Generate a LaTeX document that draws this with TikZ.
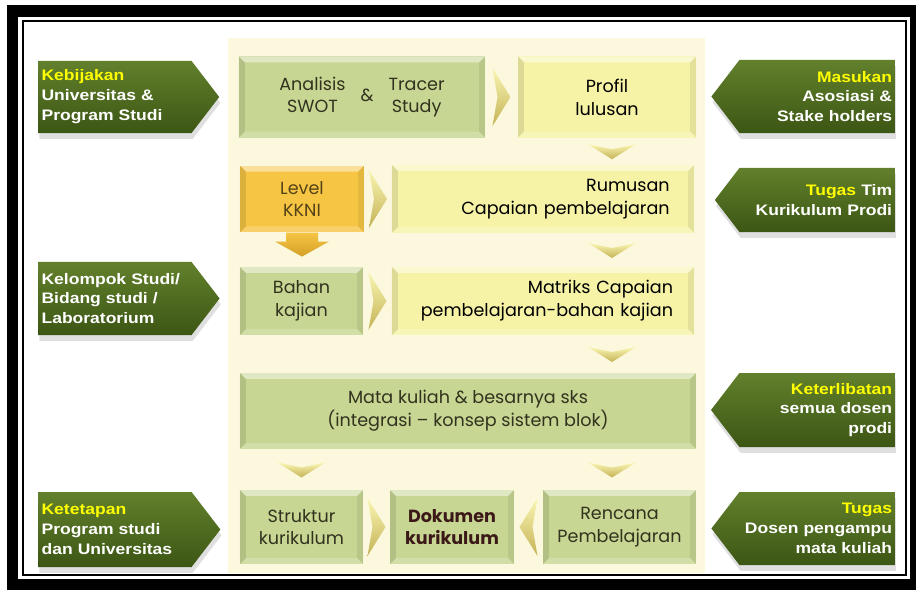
\documentclass[tikz,border=0pt]{standalone}
\usepackage{fontspec}
\usetikzlibrary{shapes.symbols,shadows,calc}
\setmainfont{Poppins}
\newfontfamily\tagfont{Liberation Sans}[FakeStretch=1.15]
\definecolor{panel}{RGB}{251,248,221}
\definecolor{gboxc}{RGB}{199,214,147}
\definecolor{yboxc}{RGB}{246,243,166}
\definecolor{kkc}{RGB}{246,197,68}
\definecolor{kkdark}{RGB}{212,160,40}
\definecolor{kktext}{RGB}{84,66,24}
\definecolor{dokc}{RGB}{60,25,25}
\definecolor{tagtop}{RGB}{98,128,44}
\definecolor{tagbot}{RGB}{60,86,20}
\definecolor{tagyel}{RGB}{255,255,0}
\definecolor{olivetext}{RGB}{50,50,30}
\definecolor{chevtop}{RGB}{250,246,178}
\definecolor{chevbot}{RGB}{196,178,86}
\newcommand{\hl}[1]{\textcolor{tagyel}{#1}}
\begin{document}
\begin{tikzpicture}[x=0.03cm,y=-0.03cm,
  bevel/.style={path picture={
    \fill[white,opacity=.45] (path picture bounding box.north west) -- (path picture bounding box.north east)
      -- ([shift={(-5pt,-5pt)}]path picture bounding box.north east) -- ([shift={(5pt,-5pt)}]path picture bounding box.north west) -- cycle;
    \fill[black,opacity=.1] (path picture bounding box.north west) -- ([shift={(5pt,-5pt)}]path picture bounding box.north west)
      -- ([shift={(5pt,5pt)}]path picture bounding box.south west) -- (path picture bounding box.south west) -- cycle;
    \fill[black,opacity=.07] (path picture bounding box.north east) -- ([shift={(-5pt,-5pt)}]path picture bounding box.north east)
      -- ([shift={(-5pt,5pt)}]path picture bounding box.south east) -- (path picture bounding box.south east) -- cycle;
    \fill[white,opacity=.2] (path picture bounding box.south west) -- ([shift={(5pt,5pt)}]path picture bounding box.south west)
      -- ([shift={(-5pt,5pt)}]path picture bounding box.south east) -- (path picture bounding box.south east) -- cycle;
  }},
  cbox/.style={bevel,inner sep=2pt,align=center,font=\fontsize{15}{19.5}\selectfont},
  gbox/.style={cbox,fill=gboxc,text=olivetext},
  ybox/.style={cbox,fill=yboxc,text=black},
  tagshape/.style={shape=signal,signal pointer angle=105,top color=tagtop,bottom color=tagbot,text=white,
    font=\tagfont\bfseries\fontsize{13}{17}\selectfont,
    drop shadow={shadow xshift=1pt,shadow yshift=-5pt,opacity=.25}},
  ltag/.style={tagshape,signal to=east,anchor=west,text width=4.4cm,align=left,inner xsep=.1cm},
  rtag/.style={tagshape,signal to=west,anchor=east,text width=4.5cm,align=right,inner xsep=.08cm},
  rchev/.pic={\shade[top color=chevtop,bottom color=chevbot] (-9,-29) -- (9,0) -- (-9,29) -- (-4,0) -- cycle;},
  lchev/.pic={\shade[top color=chevtop,bottom color=chevbot] (9,-29) -- (-9,0) -- (9,29) -- (4,0) -- cycle;},
  dchev/.pic={\shade[top color=chevtop,bottom color=chevbot] (-24,-7) -- (0,-2) -- (24,-7) -- (0,8) -- cycle;},
  kkarrow/.pic={\shade[top color=kkc,bottom color=kkdark] (-16,0) -- (16,0) -- (16,9) -- (27,9) -- (0,24) -- (-27,9) -- (-16,9) -- cycle;}
]
\useasboundingbox (0,0) rectangle (916,590);
\fill[black] (7,5) rectangle (916,590);
\fill[white] (18,17) rectangle (910,579);
\draw[line width=1.5pt] (23,21) rectangle (906,575);
\fill[panel] (228,38) rectangle (705,573);

\node (ana) at (362,97) [gbox,minimum width=7.38cm,minimum height=2.43cm] {\begin{tabular}{@{}c@{}}Analisis\\SWOT\end{tabular}\hspace{.45cm}\&\hspace{.45cm}\begin{tabular}{@{}c@{}}Tracer\\Study\end{tabular}};
\node (prof) at (607,97) [ybox,minimum width=5.34cm,minimum height=2.43cm] {Profil\\lulusan};
\node (kkni) at (302,199) [cbox,fill=kkc,text=kktext,minimum width=3.72cm,minimum height=2cm] {Level\\KKNI};
\node (rum) at (543,199) [ybox,minimum width=9.06cm,minimum height=2.04cm,text width=7.6cm,align=right] {Rumusan\\Capaian pembelajaran};
\node (bah) at (301.5,301) [gbox,minimum width=3.69cm,minimum height=2.04cm] {Bahan\\kajian};
\node (mat) at (543,301) [ybox,minimum width=9.06cm,minimum height=2.04cm,text width=7.8cm,align=right] {Matriks Capaian\\pembelajaran-bahan kajian};
\node (mk) at (468,411) [gbox,minimum width=13.68cm,minimum height=2.28cm] {Mata kuliah \& besarnya sks\\(integrasi -- konsep sistem blok)};
\node (str) at (301.5,527) [gbox,minimum width=3.69cm,minimum height=2.22cm] {Struktur\\kurikulum};
\node (dok) at (452,527) [gbox,minimum width=3.72cm,minimum height=2.22cm,text=dokc,font=\bfseries\fontsize{15}{19.5}\selectfont] {Dokumen\\kurikulum};
\node (ren) at (619.5,527) [gbox,minimum width=4.59cm,minimum height=2.22cm] {Rencana\\Pembelajaran};

\node (keb) at (38,97) [ltag,minimum height=2.16cm] {\hl{Kebijakan}\\Universitas \&\\Program Studi};
\node (kel) at (38,298.5) [ltag,minimum height=2.19cm] {Kelompok Studi/\\Bidang studi /\\Laboratorium};
\node (ket) at (38,529.5) [ltag,minimum height=2.25cm] {\hl{Ketetapan}\\Program studi\\dan Universitas};
\node (mas) at (895,96.5) [rtag,minimum height=2.19cm] {\hl{Masukan}\\Asosiasi \&\\Stake holders};
\node (tim) at (895,200) [rtag,minimum height=1.92cm] {\hl{Tugas} Tim\\Kurikulum Prodi};
\node (ktl) at (895,410) [rtag,minimum height=2.22cm] {\hl{Keterlibatan}\\semua dosen\\prodi};
\node (dos) at (895,528.5) [rtag,minimum height=2.19cm] {\hl{Tugas}\\Dosen pengampu\\mata kuliah};

\coordinate (rc) at (612,0);
\pic at ($(ana.east)!.5!(prof.west)$) {rchev};
\pic at ($(kkni.east)!.5!(rum.west)$) {rchev};
\pic at ($(bah.east)!.5!(mat.west)$) {rchev};
\pic at ($(str.east)!.5!(dok.west)$) {rchev};
\pic at ($(ren.west)!.5!(dok.east)$) {lchev};
\pic at ($(rc|-prof.south)!.5!(rc|-rum.north)$) {dchev};
\pic at ($(rc|-rum.south)!.5!(rc|-mat.north)$) {dchev};
\pic at ($(rc|-mat.south)!.5!(rc|-mk.north)$) {dchev};
\pic at ($(rc|-mk.south)!.5!(rc|-ren.north)$) {dchev};
\pic at ($(str.north)!.5!(str.north|-mk.south)$) {dchev};
\pic at (kkni.south) {kkarrow};
\end{tikzpicture}
\end{document}
